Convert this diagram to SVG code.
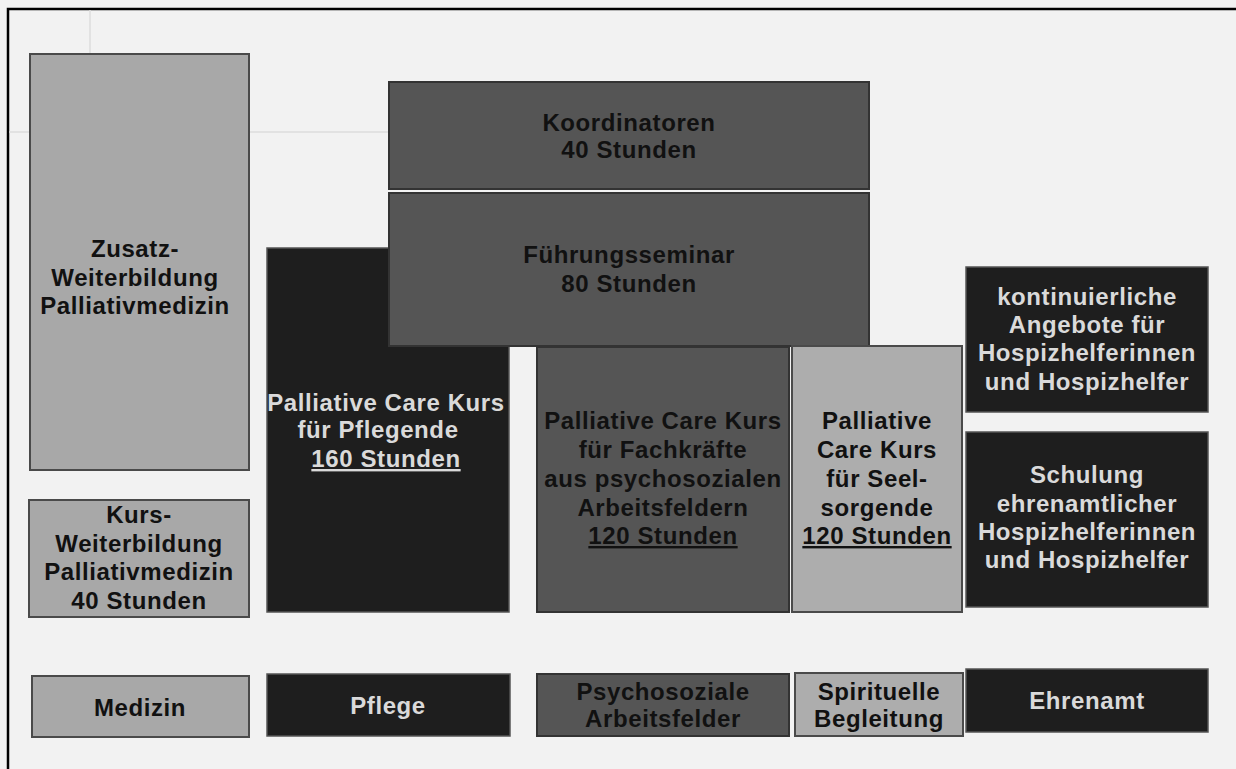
<svg xmlns="http://www.w3.org/2000/svg" width="1236" height="769" viewBox="0 0 1236 769">
<style>
  .bg{fill:#f2f2f2}
  .light{fill:#a8a8a8;stroke:#4a4a4a;stroke-width:2}
  .light2{fill:#adadad;stroke:#4a4a4a;stroke-width:2}
  .mid{fill:#555555;stroke:#333333;stroke-width:2}
  .dark{fill:#1e1e1e;stroke:#555555;stroke-width:1.5}
  text{font-family:"Liberation Sans",Arial,sans-serif;font-weight:bold;font-size:24px;text-anchor:middle;letter-spacing:0.6px}
  .tb{fill:#111111}
  .tw{fill:#dadada}
  .u{text-decoration:underline}
  .grid{stroke:#dcdcdc;stroke-width:1.5;fill:none}
</style>
<rect class="bg" x="0" y="0" width="1236" height="769"/>
<rect x="8" y="9" width="1250" height="790" fill="none" stroke="#000" stroke-width="2.5"/>
<g id="gridlines">
  <line class="grid" x1="90" y1="10" x2="90" y2="54"/>
  <line class="grid" x1="9" y1="132" x2="30" y2="132"/>
  <line class="grid" x1="250" y1="132" x2="389" y2="132"/>
</g>
<g id="zusatz">
  <rect class="light" x="30" y="54" width="219" height="416"/>
  <text class="tb" x="135" y="257">Zusatz-</text>
  <text class="tb" x="135" y="286">Weiterbildung</text>
  <text class="tb" x="135" y="314">Palliativmedizin</text>
</g>
<g id="kurs">
  <rect class="light" x="29" y="500" width="220" height="117"/>
  <text class="tb" x="139" y="523">Kurs-</text>
  <text class="tb" x="139" y="552">Weiterbildung</text>
  <text class="tb" x="139" y="580">Palliativmedizin</text>
  <text class="tb" x="139" y="609">40 Stunden</text>
</g>
<g id="pflegende">
  <rect class="dark" x="267" y="248" width="242" height="364"/>
  <text class="tw" x="386" y="411">Palliative Care Kurs</text>
  <text class="tw" x="378" y="438">für Pflegende</text>
  <text class="tw u" x="386" y="467">160 Stunden</text>
</g>
<g id="koordinatoren">
  <rect class="mid" x="389" y="82" width="480" height="107"/>
  <text class="tb" x="629" y="131">Koordinatoren</text>
  <text class="tb" x="629" y="158">40 Stunden</text>
</g>
<g id="fuehrung">
  <rect class="mid" x="389" y="193" width="480" height="153"/>
  <text class="tb" x="629" y="263">Führungsseminar</text>
  <text class="tb" x="629" y="292">80 Stunden</text>
</g>
<g id="psychosozial">
  <rect class="mid" x="537" y="347" width="252" height="265"/>
  <text class="tb" x="663" y="429">Palliative Care Kurs</text>
  <text class="tb" x="663" y="458">für Fachkräfte</text>
  <text class="tb" x="663" y="487">aus psychosozialen</text>
  <text class="tb" x="663" y="516">Arbeitsfeldern</text>
  <text class="tb u" x="663" y="544">120 Stunden</text>
</g>
<g id="seelsorge">
  <rect class="light2" x="792" y="346" width="170" height="266"/>
  <text class="tb" x="877" y="429">Palliative</text>
  <text class="tb" x="877" y="458">Care Kurs</text>
  <text class="tb" x="877" y="487">für Seel-</text>
  <text class="tb" x="877" y="516">sorgende</text>
  <text class="tb u" x="877" y="544">120 Stunden</text>
</g>
<g id="kontinuierlich">
  <rect class="dark" x="966" y="267" width="242" height="145"/>
  <text class="tw" x="1087" y="305">kontinuierliche</text>
  <text class="tw" x="1087" y="333">Angebote für</text>
  <text class="tw" x="1087" y="361">Hospizhelferinnen</text>
  <text class="tw" x="1087" y="390">und Hospizhelfer</text>
</g>
<g id="schulung">
  <rect class="dark" x="966" y="432" width="242" height="175"/>
  <text class="tw" x="1087" y="483">Schulung</text>
  <text class="tw" x="1087" y="512">ehrenamtlicher</text>
  <text class="tw" x="1087" y="540">Hospizhelferinnen</text>
  <text class="tw" x="1087" y="568">und Hospizhelfer</text>
</g>
<g id="medizin">
  <rect class="light" x="32" y="676" width="217" height="61"/>
  <text class="tb" x="140" y="716">Medizin</text>
</g>
<g id="pflege">
  <rect class="dark" x="267" y="674" width="243" height="62"/>
  <text class="tw" x="388" y="714">Pflege</text>
</g>
<g id="psychosoziale-felder">
  <rect class="mid" x="537" y="674" width="252" height="62"/>
  <text class="tb" x="663" y="700">Psychosoziale</text>
  <text class="tb" x="663" y="727">Arbeitsfelder</text>
</g>
<g id="spirituelle">
  <rect class="light2" x="795" y="673" width="168" height="63"/>
  <text class="tb" x="879" y="700">Spirituelle</text>
  <text class="tb" x="879" y="727">Begleitung</text>
</g>
<g id="ehrenamt">
  <rect class="dark" x="966" y="669" width="242" height="63"/>
  <text class="tw" x="1087" y="709">Ehrenamt</text>
</g>
<g id="connectors"></g>
</svg>
